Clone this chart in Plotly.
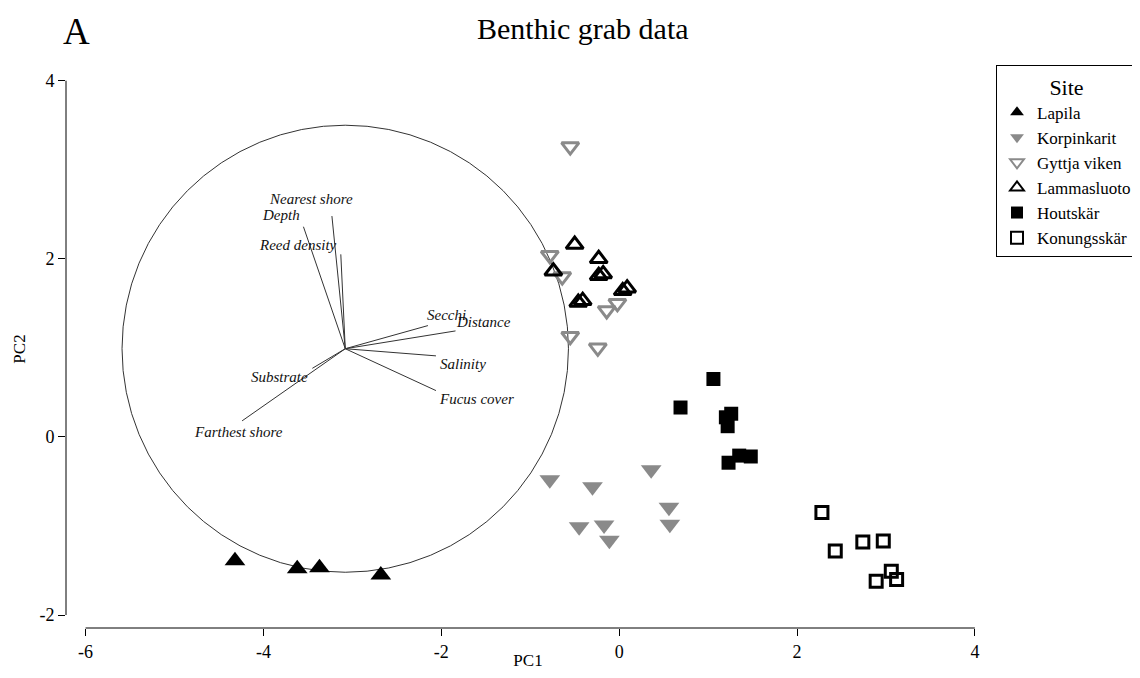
import plotly.graph_objects as go

# ---- data ----
sites = ["Lapila", "Korpinkarit", "Gyttja viken", "Lammasluoto", "Houtskär", "Konungsskär"]

lapila_pc1 = [-4.32, -3.62, -3.37, -2.68]
lapila_pc2 = [-1.39, -1.48, -1.47, -1.55]

korpinkarit_pc1 = [-0.78, -0.30, 0.36, -0.45, -0.17, -0.11, 0.56, 0.57]
korpinkarit_pc2 = [-0.48, -0.56, -0.37, -1.01, -0.99, -1.16, -0.79, -0.98]

gyttja_pc1 = [-0.55, -0.78, -0.64, -0.55, -0.24, -0.14, -0.02]
gyttja_pc2 = [3.26, 2.04, 1.80, 1.13, 1.00, 1.42, 1.50]

lammas_pc1 = [-0.50, -0.74, -0.23, -0.23, -0.18, -0.46, -0.41, 0.04, 0.09]
lammas_pc2 = [2.16, 1.86, 2.00, 1.81, 1.83, 1.51, 1.53, 1.64, 1.67]

houtskar_pc1 = [1.06, 0.69, 1.20, 1.26, 1.22, 1.35, 1.48, 1.23]
houtskar_pc2 = [0.65, 0.33, 0.22, 0.26, 0.12, -0.21, -0.22, -0.29]

konungs_pc1 = [2.28, 2.43, 2.74, 2.97, 2.89, 3.06, 3.12]
konungs_pc2 = [-0.85, -1.28, -1.18, -1.17, -1.62, -1.51, -1.60]

# environmental vectors (loadings, relative to circle centre)
vec_names = ["Nearest shore", "Depth", "Reed density", "Secchi", "Distance",
             "Salinity", "Fucus cover", "Substrate", "Farthest shore"]
vec_dx = [-0.15, -0.47, -0.05, 0.93, 1.24, 1.02, 1.02, -0.37, -1.16]
vec_dy = [1.49, 1.37, 1.06, 0.26, 0.20, -0.08, -0.47, -0.22, -0.81]
# label offsets from vector tip
lab_dx = [-0.24, -0.25, -0.48, 0.21, 0.32, 0.30, 0.46, -0.37, -0.04]
lab_dy = [0.19, 0.13, 0.11, 0.12, 0.10, -0.09, -0.10, -0.10, -0.13]

circle_cx, circle_cy, circle_r = -3.08, 0.99, 2.51

x_ticks = [-6, -4, -2, 0, 2, 4]
y_ticks = [-2, 0, 2, 4]

FONT = "Liberation Serif"
GREY = "#8a8a8a"

fig = go.Figure()

# vectors
vx, vy = [], []
for dx, dy in zip(vec_dx, vec_dy):
    vx += [circle_cx, circle_cx + dx, None]
    vy += [circle_cy, circle_cy + dy, None]
fig.add_trace(go.Scatter(x=vx, y=vy, mode="lines", line=dict(color="#333333", width=1),
                         showlegend=False, hoverinfo="skip"))

for name, dx, dy, lx, ly in zip(vec_names, vec_dx, vec_dy, lab_dx, lab_dy):
    fig.add_annotation(x=circle_cx + dx + lx, y=circle_cy + dy + ly, text=f"<i>{name}</i>",
                       showarrow=False, font=dict(family=FONT, size=15, color="#111111"))

series = [
    ("Lapila", lapila_pc1, lapila_pc2, "triangle-up", "black", "black", 18),
    ("Korpinkarit", korpinkarit_pc1, korpinkarit_pc2, "triangle-down", GREY, GREY, 18),
    ("Gyttja viken", gyttja_pc1, gyttja_pc2, "triangle-down-open", GREY, GREY, 15),
    ("Lammasluoto", lammas_pc1, lammas_pc2, "triangle-up-open", "black", "black", 15),
    ("Houtskär", houtskar_pc1, houtskar_pc2, "square", "black", "black", 14),
    ("Konungsskär", konungs_pc1, konungs_pc2, "square-open", "black", "black", 12),
]
for name, xs, ys, sym, fc, lc, sz in series:
    fig.add_trace(go.Scatter(
        x=xs, y=ys, mode="markers", name=name,
        marker=dict(symbol=sym, size=sz, color=fc,
                    line=dict(color=lc, width=3 if "open" in sym else 0)),
    ))

# circle
fig.add_shape(type="circle", xref="x", yref="y",
              x0=circle_cx - circle_r, x1=circle_cx + circle_r,
              y0=circle_cy - circle_r, y1=circle_cy + circle_r,
              line=dict(color="#333333", width=1), layer="below")

# axis lines (span tick range only)
fig.add_shape(type="line", xref="x", yref="paper", x0=x_ticks[0], x1=x_ticks[-1], y0=0, y1=0,
              line=dict(color="black", width=1))
fig.add_shape(type="line", xref="paper", yref="y", x0=0, x1=0, y0=y_ticks[0], y1=y_ticks[-1],
              line=dict(color="black", width=1))

fig.update_xaxes(range=[-6.22, 4.17], showgrid=False, zeroline=False, showline=False,
                 automargin=False,
                 tickvals=x_ticks, ticktext=[str(t) for t in x_ticks],
                 ticks="outside", ticklen=7, tickcolor="black", tickwidth=1,
                 tickfont=dict(family=FONT, size=18, color="black"),
                 title=dict(text="PC1", font=dict(family=FONT, size=17, color="black"), standoff=9))
fig.update_yaxes(range=[-2.146, 4.12], showgrid=False, zeroline=False, showline=False,
                 automargin=False,
                 tickvals=y_ticks, ticktext=[str(t) for t in y_ticks],
                 ticks="outside", ticklen=7, tickcolor="black", tickwidth=1,
                 tickfont=dict(family=FONT, size=18, color="black"),
                 title=dict(text="PC2", font=dict(family=FONT, size=17, color="black"), standoff=9))

fig.add_annotation(xref="paper", yref="paper", x=0.5595, y=1.0, yshift=42, yanchor="middle",
                   text="Benthic grab data", showarrow=False,
                   font=dict(family=FONT, size=30, color="black"))
fig.add_annotation(xref="paper", yref="paper", x=-0.0054, y=1.0, yshift=61, yanchor="top",
                   text="A", showarrow=False,
                   font=dict(family=FONT, size=37, color="black"))

# page body has an 8px margin, so the figure is sized to fit the 1140x678 window
fig.update_layout(
    width=1124, height=662,
    margin=dict(l=58, r=142, t=62, b=42, autoexpand=False),
    plot_bgcolor="white", paper_bgcolor="white",
    font=dict(family=FONT, color="black"),
    legend=dict(x=1.0065, y=1.009, xanchor="left", yanchor="top",
                bordercolor="black", borderwidth=1, bgcolor="white",
                title=dict(text="Site", side="top center", font=dict(family=FONT, size=22)),
                font=dict(family=FONT, size=17, color="black"),
                itemsizing="constant", itemwidth=30, tracegroupgap=0),
)

fig.write_html("out.html")
